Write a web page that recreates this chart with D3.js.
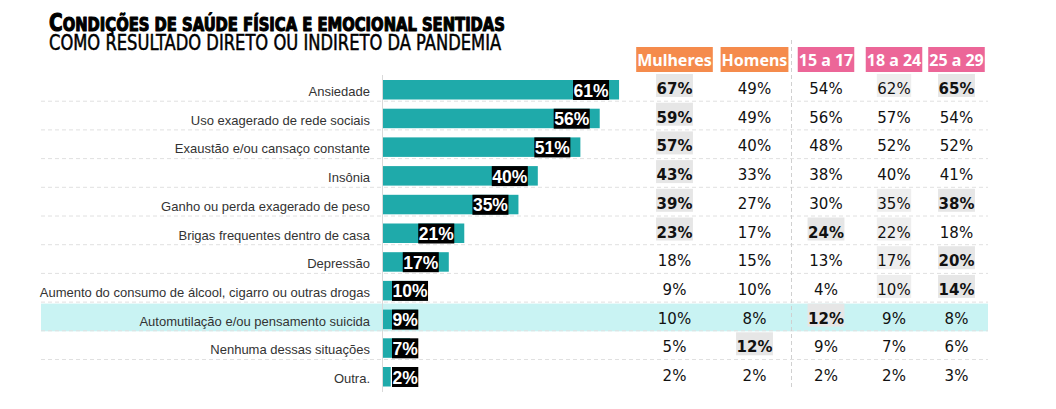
<!DOCTYPE html>
<html><head><meta charset="utf-8">
<script src="https://cdn.jsdelivr.net/npm/d3@7"></script>
<style>html,body{margin:0;padding:0;background:#fff;}svg{display:block;}</style>
</head><body>
<script>
const categories = ["Ansiedade","Uso exagerado de rede sociais","Exaustão e/ou cansaço constante","Insônia","Ganho ou perda exagerado de peso","Brigas frequentes dentro de casa","Depressão","Aumento do consumo de álcool, cigarro ou outras drogas","Automutilação e/ou pensamento suicida","Nenhuma dessas situações","Outra."];
const totalValues = [61,56,51,40,35,21,17,10,9,7,2];
const columns = ["Mulheres","Homens","15 a 17","18 a 24","25 a 29"];
const columnGroups = ["gender","gender","age","age","age"];
const mulheres = [67,59,57,43,39,23,18,9,10,5,2];
const homens   = [49,49,40,33,27,17,15,10,8,12,2];
const age15a17 = [54,56,48,38,30,24,13,4,12,9,2];
const age18a24 = [62,57,52,40,35,22,17,10,9,7,2];
const age25a29 = [65,54,52,41,38,18,20,14,8,6,3];
// 2 = bold highlight, 1 = light highlight, 0 = none
const hlMulheres = [2,2,2,2,2,2,0,0,0,0,0];
const hlHomens   = [0,0,0,0,0,0,0,0,0,2,0];
const hl15a17    = [0,0,0,0,0,2,0,0,2,0,0];
const hl18a24    = [1,0,0,0,1,1,1,1,0,0,0];
const hl25a29    = [2,0,0,0,2,0,2,2,0,0,0];
const highlightedCategory = "Automutilação e/ou pensamento suicida";
const titleLine1 = "Condições de saúde física e emocional sentidas";
const titleLine2 = "COMO RESULTADO DIRETO OU INDIRETO DA PANDEMIA";

const tableValues = [mulheres, homens, age15a17, age18a24, age25a29];
const tableHl = [hlMulheres, hlHomens, hl15a17, hl18a24, hl25a29];

const W = 1056, H = 409;
const svg = d3.select("body").append("svg").attr("width", W).attr("height", H);

const y = d3.scaleBand().domain(categories).range([72, 72 + 11 * 28.7]).padding(0);
const x = d3.scaleLinear().domain([0, 100]).range([383, 770]);
const colX = d3.scaleOrdinal().domain(columns).range([674.5, 754.5, 826, 894, 956.5]);
const groupColor = {gender: "#f58b4c", age: "#ec6698"};

// highlighted row
svg.append("rect").attr("x", 41).attr("y", y(highlightedCategory) + 2)
  .attr("width", 988 - 41).attr("height", y.bandwidth() - 1).attr("fill", "#c9f3f3");

// row separators
svg.append("g").selectAll("line").data(categories.slice(0, -1)).join("line")
  .attr("x1", 41).attr("x2", 988)
  .attr("y1", d => y(d) + y.bandwidth() + 0.5).attr("y2", d => y(d) + y.bandwidth() + 0.5)
  .attr("stroke", "#e0e0e0").attr("stroke-dasharray", "4,3");

// vertical divider
svg.append("line").attr("x1", 791.5).attr("x2", 791.5).attr("y1", 40).attr("y2", 390)
  .attr("stroke", "#d0d0d0").attr("stroke-dasharray", "4,3");

// axis line
svg.append("line").attr("x1", 382.5).attr("x2", 382.5).attr("y1", 75).attr("y2", 392)
  .attr("stroke", "#d9d9d9");

// category labels
svg.append("g").selectAll("text").data(categories).join("text")
  .attr("x", 370).attr("y", d => y(d) + 24)
  .attr("text-anchor", "end").attr("font-family", "Liberation Sans, Arial, sans-serif")
  .attr("font-size", 13).attr("fill", "#333").text(d => d);

// bars
const rows = categories.map((c, i) => ({c, v: totalValues[i], i}));
svg.append("g").selectAll("rect").data(rows).join("rect")
  .attr("x", x(0)).attr("y", d => y(d.c) + 8).attr("height", 19.5)
  .attr("width", d => x(d.v) - x(0)).attr("fill", "#1faaaa");

// bar labels
const lg = svg.append("g").selectAll("g").data(rows).join("g");
lg.each(function(d) {
  const g = d3.select(this);
  const t = g.append("text").attr("font-family", "Liberation Sans, Arial, sans-serif")
    .attr("font-size", 17.5).attr("font-weight", "bold").attr("fill", "#fff").text(d.v + "%");
  const w = t.node().getComputedTextLength() + 1;
  const left = Math.max(x(d.v) - 10 - w, 392);
  g.insert("rect", "text").attr("x", left).attr("y", y(d.c) + 8).attr("width", w).attr("height", 20).attr("fill", "#000");
  t.attr("x", left + 0.5).attr("y", y(d.c) + 24.5);
});

// headers
const hg = svg.append("g").selectAll("g").data(columns).join("g");
hg.each(function(c, j) {
  const g = d3.select(this);
  const t = g.append("text").attr("x", colX(c)).attr("y", 65.5).attr("text-anchor", "middle")
    .attr("font-family", "Noto Sans, Open Sans, sans-serif").attr("font-weight", "bold")
    .attr("font-size", 16).attr("fill", "#fff").text(c);
  const w = t.node().getComputedTextLength() + 2;
  g.insert("rect", "text").attr("x", colX(c) - w / 2).attr("y", 47).attr("width", w).attr("height", 25)
    .attr("fill", groupColor[columnGroups[j]]);
});

// table values
columns.forEach((c, j) => {
  const cells = categories.map((cat, i) => ({cat, v: tableValues[j][i], h: tableHl[j][i]}));
  const g = svg.append("g").selectAll("g").data(cells).join("g");
  g.each(function(d) {
    const cg = d3.select(this);
    const t = cg.append("text").attr("x", colX(c)).attr("y", y(d.cat) + 22)
      .attr("text-anchor", "middle").attr("font-family", "DejaVu Sans, Verdana, sans-serif")
      .attr("font-size", 15).attr("font-weight", d.h === 2 ? "bold" : "normal")
      .attr("fill", "#111").text(d.v + "%");
    if (d.h > 0) {
      const w = t.node().getComputedTextLength() + 1;
      cg.insert("rect", "text").attr("x", colX(c) - w / 2).attr("y", y(d.cat) + 2)
        .attr("width", w).attr("height", 23).attr("fill", d.h === 2 ? "#e6e6e6" : "#eeeeee");
    }
  });
});

// title
const condFont = "Liberation Sans Narrow, DejaVu Sans Condensed, Arial Narrow, sans-serif";
const t1 = svg.append("text").attr("x", 0).attr("y", 0).attr("font-family", condFont)
  .attr("font-weight", "bold").attr("fill", "#000").attr("stroke", "#000").attr("stroke-width", 1.1)
  .attr("stroke-linejoin", "round");
titleLine1.split(" ").forEach((word, wi) => {
  if (wi > 0) t1.append("tspan").attr("font-size", 19).text(" ");
  const first = word[0], rest = word.slice(1);
  if (wi === 0) {
    t1.append("tspan").attr("font-size", 24).text(first.toUpperCase());
    t1.append("tspan").attr("font-size", 19).text(rest.toUpperCase());
  } else {
    t1.append("tspan").attr("font-size", 19).text(word.toUpperCase());
  }
});
const t2 = svg.append("text").attr("x", 0).attr("y", 0).attr("font-family", condFont)
  .attr("font-size", 22).attr("fill", "#000").attr("stroke", "#000").attr("stroke-width", 0.5)
  .text(titleLine2);
function fit(t, x0, x1, base) {
  const b = t.node().getBBox();
  const s = (x1 - x0) / b.width;
  t.attr("transform", `translate(${x0 - b.x * s},${base}) scale(${s},1)`);
}
fit(t1, 49, 505, 30.5);
fit(t2, 49, 502, 50);
</script>
</body></html>
